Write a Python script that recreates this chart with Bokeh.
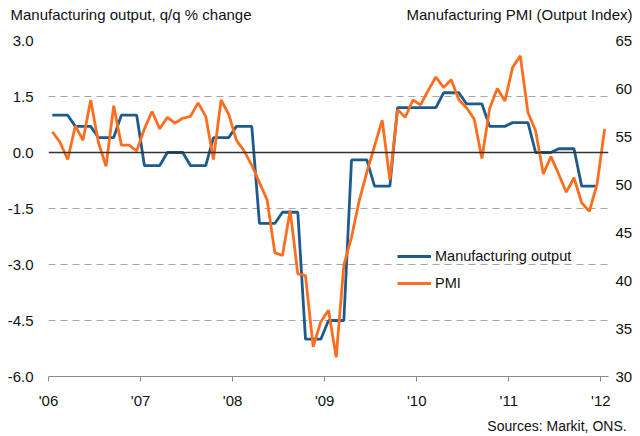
from bokeh.plotting import figure
from bokeh.models import Range1d, LinearAxis, FixedTicker, Span, Legend, LegendItem
from bokeh.embed import file_html
from bokeh.resources import INLINE

# month index: 0 = Jan 2006 ... 72 = Jan 2012
pmi_months = list(range(73))
pmi = [55.5, 54.4, 52.6, 56.1, 54.6, 58.8, 54.4, 51.9, 58.2, 54.1, 54.1, 53.5,
       55.8, 57.6, 55.8, 57.0, 56.4, 56.9, 57.1, 58.5, 57.1, 52.6, 58.8, 57.3,
       54.6, 53.5, 52.0, 50.2, 48.4, 42.9, 42.6, 47.3, 40.7, 40.5, 33.1, 35.7,
       36.9, 32.0, 41.6, 44.5, 48.3, 51.3, 54.0, 56.7, 50.5, 57.8, 57.0, 58.8,
       58.3, 59.8, 61.2, 60.1, 60.9, 58.8, 58.0, 56.8, 52.7, 57.9, 60.0, 58.7,
       62.2, 63.4, 57.5, 55.6, 51.1, 52.9, 51.1, 49.2, 50.7, 48.1, 47.2, 50.0,
       55.8]

out_months = list(range(72))
output = [1.0, 1.0, 1.0, 0.7, 0.7, 0.7, 0.4, 0.4, 0.4, 1.0, 1.0, 1.0,
          -0.35, -0.35, -0.35, 0.0, 0.0, 0.0, -0.35, -0.35, -0.35, 0.4, 0.4, 0.4,
          0.7, 0.7, 0.7, -1.9, -1.9, -1.9, -1.6, -1.6, -1.6, -5.0, -5.0, -5.0,
          -4.5, -4.5, -4.5, -0.2, -0.2, -0.2, -0.9, -0.9, -0.9, 1.2, 1.2, 1.2,
          1.2, 1.2, 1.2, 1.6, 1.6, 1.6, 1.3, 1.3, 1.3, 0.7, 0.7, 0.7,
          0.8, 0.8, 0.8, 0.0, 0.0, 0.0, 0.1, 0.1, 0.1, -0.9, -0.9, -0.9]

# year ticks sit on the boundary before January of each year
year_ticks = [-0.5, 11.5, 23.5, 35.5, 47.5, 59.5, 71.5]
year_labels = ["'06", "'07", "'08", "'09", "'10", "'11", "'12"]
left_ticks = [-6.0, -4.5, -3.0, -1.5, 0.0, 1.5, 3.0]
left_labels = ["-6.0", "-4.5", "-3.0", "-1.5", "0.0", "1.5", "3.0"]
right_ticks = [30, 35, 40, 45, 50, 55, 60, 65]
right_labels = ["30", "35", "40", "45", "50", "55", "60", "65"]

title_left = "Manufacturing output, q/q % change"
title_right = "Manufacturing PMI (Output Index)"
source_text = "Sources: Markit, ONS."

FONT = "Liberation Sans"
BLUE = "#1d5b8c"
ORANGE = "#ff6d1f"
TXT = "#111111"

X0, X1 = -0.5, 72.5
FL, FR = 48, 608  # frame left / right in px


def px_to_x(px):
    return X0 + (px - FL) * (X1 - X0) / (FR - FL)


p = figure(width=640, height=436, output_backend="svg", toolbar_location=None,
           x_range=Range1d(X0, X1), y_range=Range1d(-6.0, 3.0),
           min_border_left=FL, min_border_right=640 - FR, min_border_top=40, min_border_bottom=60)
p.outline_line_color = None
p.background_fill_color = "white"
p.border_fill_color = "white"

p.extra_y_ranges = {"pmi": Range1d(30, 65)}


def plain(axis, size, standoff):
    axis.axis_line_color = None
    axis.major_tick_line_color = None
    axis.minor_tick_line_color = None
    axis.major_tick_in = 0
    axis.major_tick_out = 0
    axis.major_label_standoff = standoff
    axis.major_label_text_font = FONT
    axis.major_label_text_font_size = size
    axis.major_label_text_color = TXT


# left axis
ya = p.yaxis[0]
ya.ticker = FixedTicker(ticks=left_ticks)
ya.major_label_overrides = {t: l for t, l in zip(left_ticks, left_labels)}
plain(ya, "15px", 15)

# right axis
ra = LinearAxis(y_range_name="pmi", ticker=FixedTicker(ticks=right_ticks))
ra.major_label_overrides = {t: l for t, l in zip(right_ticks, right_labels)}
plain(ra, "15px", 7)
p.add_layout(ra, "right")

# bottom axis
xa = p.xaxis[0]
xa.ticker = FixedTicker(ticks=year_ticks)
xa.major_label_overrides = {t: l for t, l in zip(year_ticks, year_labels)}
xa.axis_line_color = "#8c8c8c"
xa.major_tick_line_color = "#8c8c8c"
xa.minor_tick_line_color = None
xa.major_tick_in = 0
xa.major_tick_out = 5
xa.major_label_standoff = 10
xa.major_label_text_font = FONT
xa.major_label_text_font_size = "15px"
xa.major_label_text_color = TXT

# header texts (left and right titles) as an unlined axis above the frame
t_left_c = px_to_x(10 + 120.5)
t_right_c = px_to_x(632 - 113)
ta = LinearAxis(ticker=FixedTicker(ticks=[t_left_c, t_right_c]))
ta.major_label_overrides = {t_left_c: title_left, t_right_c: title_right}
plain(ta, "15px", 18)
p.add_layout(ta, "above")

# source note as an unlined axis below the year axis
s_c = px_to_x(626 - 69.5)
sa = LinearAxis(ticker=FixedTicker(ticks=[s_c]))
sa.major_label_overrides = {s_c: source_text}
plain(sa, "14px", 6)
p.add_layout(sa, "below")

p.xgrid.visible = False
p.ygrid.ticker = FixedTicker(ticks=[-4.5, -3.0, -1.5, 1.5, 3.0])
p.ygrid.grid_line_color = "#a6a6a6"
p.ygrid.grid_line_dash = "7 5"
p.ygrid.grid_line_width = 1

p.add_layout(Span(location=0, dimension="width", line_color="#333333", line_width=1.5))

r_out = p.line(out_months, output, line_color=BLUE, line_width=2.8)
r_pmi = p.line(pmi_months, pmi, line_color=ORANGE, line_width=2.8, y_range_name="pmi")

legend = Legend(items=[LegendItem(label="Manufacturing output", renderers=[r_out]),
                       LegendItem(label="PMI", renderers=[r_pmi])],
                location=(349, 83), orientation="vertical",
                background_fill_alpha=0, border_line_color=None,
                padding=0, margin=0, spacing=7,
                glyph_width=34, glyph_height=20, label_height=20, label_standoff=4,
                label_text_font=FONT, label_text_font_size="14.5px",
                label_text_color=TXT)
p.add_layout(legend, "center")

open("out.html", "w").write(file_html(p, INLINE))
